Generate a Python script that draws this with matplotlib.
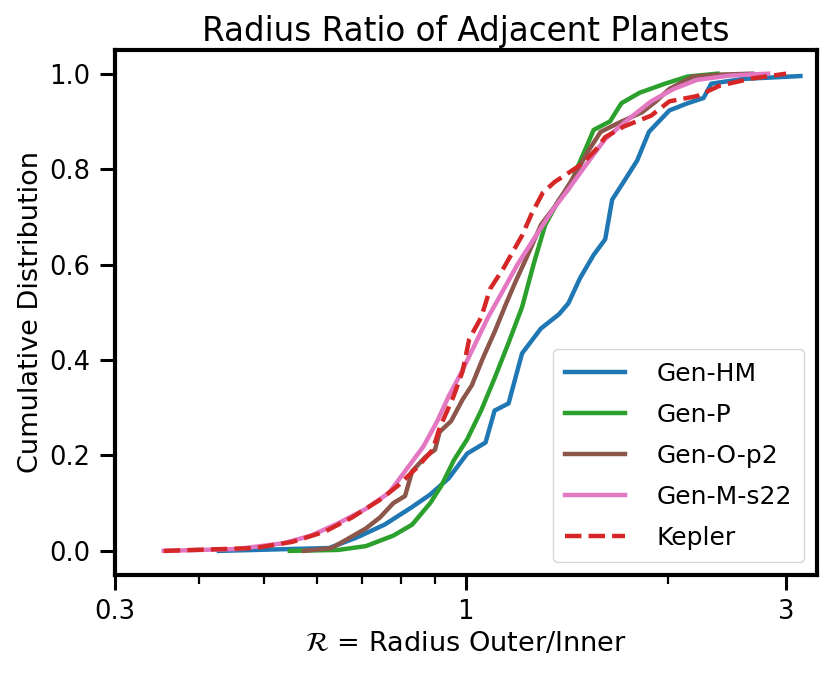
import numpy as np
import matplotlib
matplotlib.use("Agg")
import matplotlib.pyplot as plt
from matplotlib.ticker import FixedLocator, NullFormatter

# points (ratio, cumulative fraction)
hm_x = [0.429, 0.626, 0.688, 0.757, 0.832, 0.885, 0.943, 1.005, 1.07, 1.104, 1.158, 1.213, 1.294,
        1.377, 1.422, 1.479, 1.55, 1.613, 1.652, 1.718, 1.80, 1.874, 2.01, 2.14, 2.26, 2.32, 2.59, 3.15]
hm_y = [0.0, 0.006, 0.028, 0.055, 0.092, 0.118, 0.152, 0.204, 0.227, 0.294, 0.309, 0.414, 0.466,
        0.496, 0.519, 0.571, 0.620, 0.653, 0.736, 0.773, 0.818, 0.878, 0.923, 0.938, 0.949, 0.979, 0.989, 0.995]

p_x = [0.547, 0.646, 0.71, 0.78, 0.832, 0.885, 0.92, 0.96, 1.005, 1.054, 1.104, 1.158, 1.213,
       1.262, 1.313, 1.377, 1.422, 1.466, 1.514, 1.55, 1.64, 1.705, 1.815, 1.98, 2.14, 2.37]
p_y = [0.0, 0.002, 0.010, 0.032, 0.055, 0.10, 0.137, 0.19, 0.234, 0.294, 0.362, 0.436, 0.511,
       0.601, 0.683, 0.736, 0.758, 0.803, 0.848, 0.882, 0.90, 0.938, 0.960, 0.979, 0.994, 1.0]

o_x = [0.574, 0.631, 0.667, 0.71, 0.745, 0.78, 0.812, 0.832, 0.871, 0.90, 0.914, 0.951, 0.989, 1.021,
       1.062, 1.104, 1.149, 1.186, 1.233, 1.294, 1.356, 1.40, 1.455, 1.514, 1.588, 1.69, 1.83, 1.92,
       2.01, 2.18, 2.39, 2.67]
o_y = [0.0, 0.006, 0.025, 0.047, 0.07, 0.10, 0.115, 0.167, 0.197, 0.212, 0.249, 0.272, 0.317, 0.347,
       0.406, 0.459, 0.519, 0.564, 0.616, 0.683, 0.721, 0.751, 0.788, 0.833, 0.878, 0.897, 0.919, 0.942,
       0.968, 0.994, 0.998, 1.0]

m_x = [0.355, 0.457, 0.535, 0.588, 0.646, 0.71, 0.769, 0.819, 0.865, 0.907, 0.943, 0.981, 1.029,
       1.079, 1.14, 1.195, 1.262, 1.345, 1.422, 1.514, 1.613, 1.745, 1.888, 2.04, 2.21, 2.47, 2.82]
m_y = [0.0, 0.004, 0.016, 0.032, 0.058, 0.088, 0.122, 0.174, 0.219, 0.272, 0.324, 0.369, 0.429,
       0.489, 0.549, 0.601, 0.653, 0.713, 0.758, 0.811, 0.863, 0.904, 0.942, 0.968, 0.987, 0.996, 1.0]

k_x = [0.355, 0.486, 0.552, 0.616, 0.677, 0.745, 0.793, 0.845, 0.893, 0.914, 0.959, 0.989, 1.012,
       1.054, 1.087, 1.14, 1.213, 1.253, 1.303, 1.356, 1.422, 1.49, 1.563, 1.613, 1.718, 1.888, 2.01,
       2.21, 2.39, 2.67, 3.0]
k_y = [0.0, 0.006, 0.019, 0.04, 0.07, 0.107, 0.137, 0.174, 0.212, 0.257, 0.324, 0.376, 0.444,
       0.489, 0.549, 0.594, 0.661, 0.706, 0.751, 0.773, 0.792, 0.811, 0.841, 0.867, 0.889, 0.912, 0.942,
       0.953, 0.975, 0.990, 1.0]

fig = plt.figure(figsize=(8.31, 6.73), dpi=100)
ax = fig.add_axes([0.138, 0.146, 0.845, 0.780])

lw = 3.2
ax.plot(hm_x, hm_y, color='tab:blue', lw=lw, label='Gen-HM')
ax.plot(p_x, p_y, color='tab:green', lw=lw, label='Gen-P')
ax.plot(o_x, o_y, color='tab:brown', lw=lw, label='Gen-O-p2')
ax.plot(m_x, m_y, color='tab:pink', lw=lw, label='Gen-M-s22')
ax.plot(k_x, k_y, color='tab:red', lw=lw, ls='--', label='Kepler')

ax.set_xscale('log')
ax.set_xlim(0.3, 1/0.3)
ax.set_ylim(-0.05, 1.05)
ax.xaxis.set_major_locator(FixedLocator([0.3, 1, 3]))
ax.set_xticklabels(['0.3', '1', '3'])
ax.xaxis.set_minor_locator(FixedLocator([0.4, 0.5, 0.6, 0.7, 0.8, 0.9, 2]))
ax.xaxis.set_minor_formatter(NullFormatter())
ax.set_yticks([0.0, 0.2, 0.4, 0.6, 0.8, 1.0])
ax.set_yticklabels(['0.0', '0.2', '0.4', '0.6', '0.8', '1.0'])

for s in ax.spines.values():
    s.set_linewidth(3)
ax.tick_params(which='major', length=10.5, width=2.2, labelsize=18.5, pad=7)
ax.tick_params(which='minor', length=6.5, width=1.6)

ax.set_title('Radius Ratio of Adjacent Planets', fontsize=23.5)
ax.set_xlabel(r'$\mathcal{R}$ = Radius Outer/Inner', fontsize=19.5)
ax.set_ylabel('Cumulative Distribution', fontsize=19.5)
ax.legend(loc='lower right', fontsize=18, handlelength=2.4, labelspacing=0.68,
          handletextpad=1.25, borderpad=0.5, borderaxespad=0.5, framealpha=0.8)

fig.savefig('out.png', dpi=100)
